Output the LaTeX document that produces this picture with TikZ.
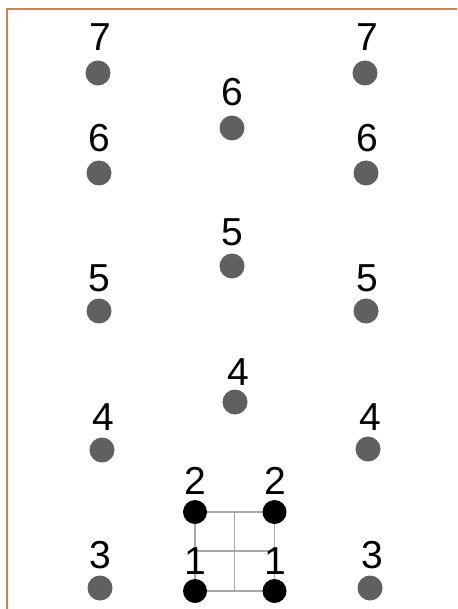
\documentclass[tikz,border=0pt]{standalone}
\usepackage{fontspec}
\setmainfont{Liberation Sans}
\definecolor{framec}{HTML}{C8864A}
\definecolor{dotc}{HTML}{606060}
\definecolor{gridc}{HTML}{A8A8A8}
\begin{document}
\begin{tikzpicture}[x=1pt,y=-1pt,
  gdot/.style={circle,fill=dotc,inner sep=0,minimum size=25pt},
  bdot/.style={circle,fill=black,inner sep=0,minimum size=24pt},
  lbl/.style={inner sep=0,font=\fontsize{39}{39}\selectfont},
  gline/.style={draw=gridc,line width=1.5pt},
  frameline/.style={draw=framec,line width=2pt}]
\useasboundingbox (0,0) rectangle (457,609);
\fill[white] (0,0) rectangle (457,609);
% frame
\coordinate (ftl) at (7,9.5);
\coordinate (ftr) at (457,9.5);
\coordinate (fbl) at (7,609);
\draw[frameline] (ftr) -- (ftl) -- (fbl);
% left column
\node[gdot] (l7) at (98,73) {};   \node[lbl] (tl7) at (100,37) {7};
\node[gdot] (l6) at (99,173) {};  \node[lbl] (tl6) at (99,138) {6};
\node[gdot] (l5) at (99,311) {};  \node[lbl] (tl5) at (99,278) {5};
\node[gdot] (l4) at (102,450) {}; \node[lbl] (tl4) at (103,417) {4};
\node[gdot] (l3) at (100,588) {}; \node[lbl] (tl3) at (100,555) {3};
% right column
\node[gdot] (r7) at (365,73) {};  \node[lbl] (tr7) at (367,37) {7};
\node[gdot] (r6) at (366,173) {}; \node[lbl] (tr6) at (367,138) {6};
\node[gdot] (r5) at (366,311) {}; \node[lbl] (tr5) at (367,278) {5};
\node[gdot] (r4) at (368,449) {}; \node[lbl] (tr4) at (370,417) {4};
\node[gdot] (r3) at (370,588) {}; \node[lbl] (tr3) at (372,555) {3};
% centre column
\node[gdot] (c6) at (232,128) {}; \node[lbl] (tc6) at (232,92) {6};
\node[gdot] (c5) at (232,266) {}; \node[lbl] (tc5) at (232,232) {5};
\node[gdot] (c4) at (235,402) {}; \node[lbl] (tc4) at (238,372) {4};
% grid
\coordinate (gtl) at (195,512);
\coordinate (gtm) at (234.5,512);
\coordinate (gtr) at (274.5,512);
\coordinate (gml) at (195,551);
\coordinate (gmr) at (274.5,551);
\coordinate (gbl) at (195,591);
\coordinate (gbm) at (234.5,591);
\coordinate (gbr) at (274.5,591);
\draw[gline] (gtl) rectangle (gbr);
\draw[gline] (gtm) -- (gbm);
\draw[gline] (gml) -- (gmr);
\node[bdot] (b2l) at (gtl) {};
\node[bdot] (b2r) at (gtr) {};
\node[bdot] (b1l) at (gbl) {};
\node[bdot] (b1r) at (gbr) {};
\node[lbl] (t2l) at (195,481) {2};
\node[lbl] (t2r) at (275,481) {2};
\node[lbl] (t1l) at (195,561) {1};
\node[lbl] (t1r) at (275,561) {1};
\end{tikzpicture}
\end{document}
